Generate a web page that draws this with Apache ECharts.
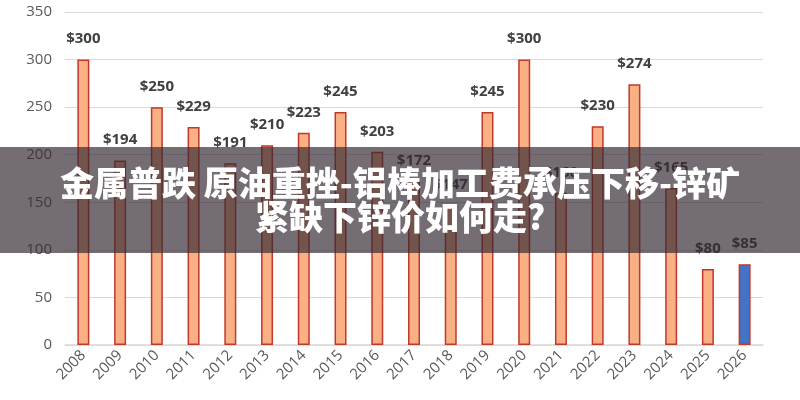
<!DOCTYPE html>
<html>
<head>
<meta charset="utf-8">
<script src="https://cdn.jsdelivr.net/npm/echarts@6/dist/echarts.min.js"></script>
<style>html,body{margin:0;padding:0;background:#fff;}#c{width:800px;height:400px;}</style>
</head>
<body>
<div id="c"></div>
<script>
var years = ['2008','2009','2010','2011','2012','2013','2014','2015','2016','2017','2018','2019','2020','2021','2022','2023','2024','2025','2026'];
var prices = [300,194,250,229,191,210,223,245,203,172,147,245,300,160,230,274,165,80,85];
var yTicks = [0,50,100,150,200,250,300,350];
var titleLine1 = '金属普跌 原油重挫-铝棒加工费承压下移-锌矿';
var titleLine2 = '紧缺下锌价如何走?';

var chart = echarts.init(document.getElementById('c'), null, {renderer:'canvas'});
var data = prices.map(function(v, i){
  return {value: v, itemStyle: {color: i === years.length - 1 ? '#4472C4' : '#F8B084'}};
});
chart.setOption({
  animation: false,
  backgroundColor: '#fff',
  grid: {left: 65, right: 37, top: 12, bottom: 55},
  xAxis: {
    type: 'category', data: years,
    axisLine: {lineStyle: {color: '#d9d9d9', width: 1.5}},
    axisTick: {show: false},
    axisLabel: {rotate: 45, color: '#595959', fontSize: 15, fontFamily: 'Open Sans', margin: 8, interval: 0}
  },
  yAxis: {
    type: 'value', min: yTicks[0], max: yTicks[yTicks.length-1], interval: 50,
    axisLine: {show: false}, axisTick: {show: false},
    axisLabel: {color: '#595959', fontSize: 15, fontFamily: 'Open Sans', margin: 13},
    splitLine: {lineStyle: {color: '#d9d9d9', width: 1}}
  },
  series: [{
    type: 'bar', data: data, barWidth: 12,
    itemStyle: {borderColor: '#C0392B', borderWidth: 1.5},
    label: {show: true, position: 'top', distance: 13, formatter: function(p){return '$' + p.value;},
      color: '#404040', fontSize: 15, fontWeight: 'bold', fontFamily: 'Open Sans'}
  }],
  graphic: [
    {type: 'rect', left: 0, top: 147, z: 100, shape: {width: 800, height: 106}, style: {fill: 'rgba(50,40,50,0.68)'}},
    {type: 'text', z: 101, x: 400, y: 183, style: {text: titleLine1, fill: '#fff', font: '900 34px "Noto Sans CJK SC"', textAlign: 'center', textVerticalAlign: 'middle'}},
    {type: 'text', z: 101, x: 400, y: 217, style: {text: titleLine2, fill: '#fff', font: '900 34px "Noto Sans CJK SC"', textAlign: 'center', textVerticalAlign: 'middle'}}
  ]
});
</script>
</body>
</html>
